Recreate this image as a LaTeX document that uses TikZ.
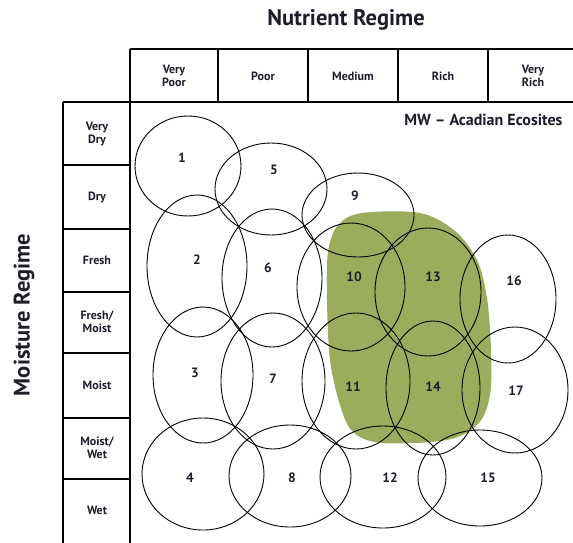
\documentclass[tikz,border=0pt]{standalone}
\usepackage{fontspec}
\setmainfont{PT Sans}
\usetikzlibrary{shapes.geometric}
\definecolor{blobgreen}{RGB}{155,173,92}
\definecolor{ink}{RGB}{30,28,40}
\begin{document}
\begin{tikzpicture}[x=1pt,y=-1pt,
  grid/.style={line width=1.1pt, draw=black},
  eco/.style={ellipse, draw=black, line width=0.9pt, inner sep=0pt},
  num/.style={text=ink, font=\bfseries\fontsize{13.5}{13.5}\selectfont},
  hdr/.style={text=ink, font=\bfseries\fontsize{12}{12.5}\selectfont, align=center},
  ttl/.style={text=ink, font=\bfseries\fontsize{22.5}{22.5}\selectfont},
]
\clip (0,0) rectangle (573,542);
% green region
\fill[blobgreen] plot[smooth cycle, tension=0.55] coordinates {
  (362,213) (420,213) (455,231) (477,260) (487,298) (491,350)
  (490,395) (478,424) (447,440) (382,443) (353,432) (340,405)
  (330,360) (327,300) (328,252) (338,225)};
% table grid
\draw[grid] (130,49) -- (580,49);
\draw[grid] (63,102) -- (580,102);
\draw[grid] (130,49) -- (130,545);
\draw[grid] (63,102) -- (63,545);
\foreach \xx in {218,308,398,488} \draw[grid] (\xx,49) -- (\xx,102);
\foreach \yy in {165,229,292,353,418,479} \draw[grid] (63,\yy) -- (130,\yy);
% titles
\node[ttl] (tN) at (346,20) {Nutrient Regime};
\node[ttl, rotate=90] (tM) at (24,315) {Moisture Regime};
\node[text=ink, font=\bfseries\fontsize{16}{16}\selectfont, anchor=east] (mw) at (566,120) {MW – Acadian Ecosites};
% column headers
\node[hdr] (c1) at (174,76) {Very\\Poor};
\node[hdr] (c2) at (263,76) {Poor};
\node[hdr] (c3) at (353,76) {Medium};
\node[hdr] (c4) at (443,76) {Rich};
\node[hdr] (c5) at (533,76) {Very\\Rich};
% row headers
\node[hdr] (r1) at (97,134) {Very\\Dry};
\node[hdr] (r2) at (97,197) {Dry};
\node[hdr] (r3) at (97,260) {Fresh};
\node[hdr] (r4) at (97,322) {Fresh/\\Moist};
\node[hdr] (r5) at (97,385) {Moist};
\node[hdr] (r6) at (97,448) {Moist/\\Wet};
\node[hdr] (r7) at (97,510) {Wet};
% ecosite ellipses
\node[eco, minimum width=106pt, minimum height=100pt] (e1) at (188,166) {};
\node[eco, minimum width=112pt, minimum height=92pt] (e5) at (271,189) {};
\node[eco, minimum width=112pt, minimum height=84pt] (e9) at (358,215) {};
\node[eco, minimum width=100pt, minimum height=142pt] (e2) at (197,266) {};
\node[eco, minimum width=100pt, minimum height=138pt] (e6) at (272,278) {};
\node[eco, minimum width=108pt, minimum height=128pt] (e10) at (351,287) {};
\node[eco, minimum width=106pt, minimum height=128pt] (e13) at (428,292) {};
\node[eco, minimum width=96pt, minimum height=128pt] (e16) at (508,299) {};
\node[eco, minimum width=100pt, minimum height=136pt] (e3) at (203,375) {};
\node[eco, minimum width=104pt, minimum height=136pt] (e7) at (273,381) {};
\node[eco, minimum width=108pt, minimum height=136pt] (e11) at (356,381) {};
\node[eco, minimum width=94pt, minimum height=134pt] (e14) at (433,388) {};
\node[eco, minimum width=106pt, minimum height=126pt] (e17) at (515,390) {};
\node[eco, minimum width=122pt, minimum height=112pt] (e4) at (203,474) {};
\node[eco, minimum width=122pt, minimum height=102pt] (e8) at (290,476) {};
\node[eco, minimum width=126pt, minimum height=102pt] (e12) at (383,477) {};
\node[eco, minimum width=124pt, minimum height=96pt] (e15) at (480,478) {};
% labels
\node[num] (n1) at (182,158) {1};
\node[num] (n5) at (274,170) {5};
\node[num] (n9) at (355,196) {9};
\node[num] (n2) at (197,260) {2};
\node[num] (n6) at (268,268) {6};
\node[num] (n10) at (354,277) {10};
\node[num] (n13) at (433,277) {13};
\node[num] (n16) at (514,281) {16};
\node[num] (n3) at (195,373) {3};
\node[num] (n7) at (273,379) {7};
\node[num] (n11) at (353,387) {11};
\node[num] (n14) at (433,387) {14};
\node[num] (n17) at (516,391) {17};
\node[num] (n4) at (190,478) {4};
\node[num] (n8) at (292,478) {8};
\node[num] (n12) at (390,478) {12};
\node[num] (n15) at (488,478) {15};
\end{tikzpicture}
\end{document}
